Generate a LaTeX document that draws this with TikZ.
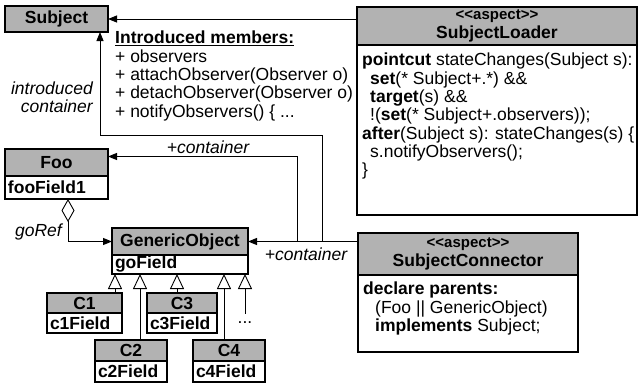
\documentclass[tikz,border=0pt]{standalone}
\usepackage{fontspec}
\setmainfont{Liberation Sans}
\usetikzlibrary{arrows.meta,positioning,calc}
\AtBeginDocument{\fontsize{17.5}{18.3}\selectfont}

\tikzset{
  classhead/.style={draw,line width=1.7pt,fill=black!30,font=\bfseries,inner sep=0pt,outer sep=0pt,anchor=north west,align=center},
  classfield/.style={draw,line width=1.7pt,fill=white,font=\bfseries,inner xsep=3pt,inner ysep=0pt,outer sep=0pt,align=left},
  codetext/.style={anchor=north west,align=left,inner sep=0pt},
  assoc/.style={line width=0.9pt,-{Triangle[length=9pt,width=7pt]}},
  inherit/.style={line width=0.9pt,-{Triangle[open,length=15pt,width=14pt]}},
  lbl/.style={font=\itshape,inner sep=1pt}
}

\begin{document}
\begin{tikzpicture}[x=1pt,y=-1pt]
  \useasboundingbox (0,0) rectangle (642,383);
  % 接口 Subject
  \node[classhead,minimum width=103pt,minimum height=26pt] (subj) at (5,6) {Subject};
  % 引入的成员
  \node[codetext] (members) at (115,31) {\underline{\textbf{Introduced members:}}\\+ observers\\+ attachObserver(Observer o)\\+ detachObserver(Observer o)\\+ notifyObservers() \{ ...};
  \node[lbl,anchor=east,align=right] (intro) at (94,97) {introduced\\container};

  % 方面 SubjectLoader
  \node[classhead,minimum width=280pt,minimum height=38pt] (loadhead) at (357,7) {{\fontsize{15}{15}\selectfont<\kern0pt<aspect>\kern0pt>}\\SubjectLoader};
  \node[classfield,minimum width=280pt,minimum height=170pt,below=0pt of loadhead] (loadbody) {};
  \node[codetext] (loadcode) at ([shift={(5pt,-8pt)}]loadbody.north west) {\textbf{pointcut} stateChanges(Subject s):\\
    \hspace*{8pt}\textbf{set}(* Subject+.*) \&\&\\
    \hspace*{8pt}\textbf{target}(s) \&\&\\
    \hspace*{8pt}!(\textbf{set}(* Subject+.observers));\\
    \textbf{after}(Subject s): stateChanges(s) \{\\
    \hspace*{8pt}s.notifyObservers();\\
    \}};

  % 类 Foo 和 GenericObject
  \node[classhead,minimum width=103pt,minimum height=27pt] (foohead) at (5,149) {Foo};
  \node[classfield,text width=97pt,minimum height=23pt,below=0pt of foohead] (foofld) {fooField1};
  \node[classhead,minimum width=136pt,minimum height=27pt] (gohead) at (112,228) {GenericObject};
  \node[classfield,text width=130pt,minimum height=19pt,below=0pt of gohead] (gofld) {goField};

  % 子类 C1 -- C4
  \node[classhead,minimum width=75pt,minimum height=20pt] (c1head) at (47,293) {C1};
  \node[classfield,text width=69pt,minimum height=20pt,below=0pt of c1head] (c1fld) {c1Field};
  \node[classhead,minimum width=70pt,minimum height=20pt] (c3head) at (147,293) {C3};
  \node[classfield,text width=64pt,minimum height=20pt,below=0pt of c3head] (c3fld) {c3Field};
  \node[classhead,minimum width=72pt,minimum height=21pt] (c2head) at (95,340) {C2};
  \node[classfield,text width=66pt,minimum height=21pt,below=0pt of c2head] (c2fld) {c2Field};
  \node[classhead,minimum width=72pt,minimum height=21pt] (c4head) at (193,340) {C4};
  \node[classfield,text width=66pt,minimum height=21pt,below=0pt of c4head] (c4fld) {c4Field};
  \node[anchor=base,text height=9pt,inner sep=0pt] (more) at (245,323) {...};

  % 方面 SubjectConnector
  \node[classhead,minimum width=220pt,minimum height=42pt] (connhead) at (358,233) {{\fontsize{15}{15}\selectfont<\kern0pt<aspect>\kern0pt>}\\SubjectConnector};
  \node[classfield,minimum width=220pt,minimum height=77pt,below=0pt of connhead] (connbody) {};
  \node[codetext] (conncode) at ([shift={(5pt,-7pt)}]connbody.north west) {\fontsize{17.5}{20.5}\selectfont\textbf{declare parents:}\\
    \hspace*{12pt}(Foo || GenericObject)\\
    \hspace*{12pt}\textbf{implements} Subject;};

  % 关联
  \draw[assoc] (loadhead.west |- subj.east) -- (subj.east);
  \draw[assoc] (connhead.west |- gohead.east) -- (gohead.east);
  \draw[assoc] (gohead.east -| 297,0) |- ([yshift=6pt]foohead.east);
  \draw[assoc] (gohead.east -| 322,0) |- (100,135) -- ([xshift=-8pt]subj.south east);
  \draw[line width=0.9pt,{Diamond[open,length=23pt,width=13pt]}-{Triangle[length=9pt,width=7pt]}] (foofld.south -| 68,0) |- (gohead.west);
  \node[lbl] (toFoo) at (208,147) {+container};
  \node[lbl] (toGO) at (306,254) {+container};
  \node[lbl,anchor=east] (goref) at (63,232) {goRef};

  % 继承
  \draw[inherit] (c1head.north -| 115,0) -- (gofld.south -| 115,0);
  \draw[inherit] (c2head.north -| 140,0) -- (gofld.south -| 140,0);
  \draw[inherit] (c3head.north -| 177,0) -- (gofld.south -| 177,0);
  \draw[inherit] (c4head.north -| 224,0) -- (gofld.south -| 224,0);
  \draw[inherit] (more.north) -- (gofld.south -| more.north);
\end{tikzpicture}
\end{document}
